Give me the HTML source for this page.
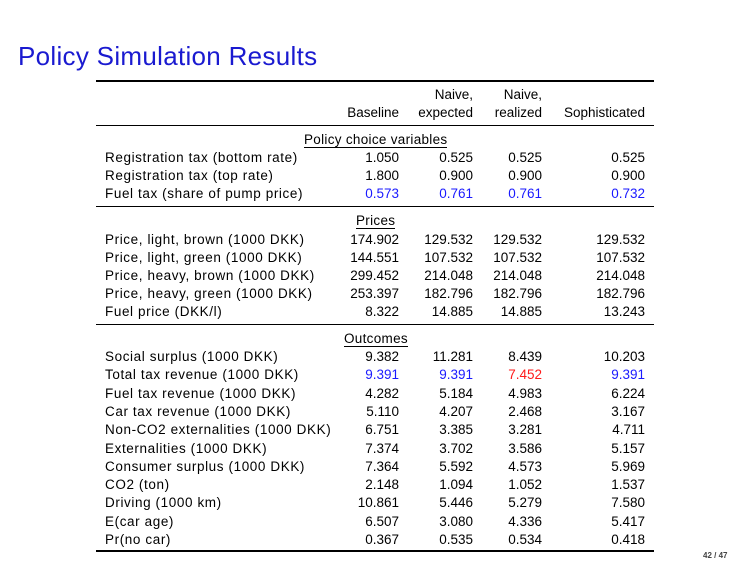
<!DOCTYPE html>
<html><head><style>
body{margin:0;width:755px;height:567px;background:#fff;position:relative;overflow:hidden;font-family:"Liberation Sans",sans-serif;color:#000}
.t{position:absolute;left:18px;top:41px;font-size:26px;color:#1a1ad0;white-space:nowrap;letter-spacing:0.3px}
.r{position:absolute;left:0;width:755px;height:18px;font-size:13.5px;line-height:18px;margin-top:1px}
.r span{position:absolute;white-space:nowrap;top:0}
.l{left:105px;letter-spacing:0.6px}
.c1{right:356px}.c2{right:282px}.c3{right:213px}.c4{right:110px}
.b{color:#1a1aff}.red{color:#ff1a1a}
.h{position:absolute;background:#000;left:96px;width:558px}
.s{position:absolute;font-size:13.5px;white-space:nowrap;border-bottom:1px solid #000;line-height:15px;letter-spacing:0.3px;margin-top:1px}
.pg{position:absolute;left:703px;top:551px;font-size:8px;font-weight:bold;color:#444}
</style></head><body>
<div class="t">Policy Simulation Results</div>
<div class="h" style="top:80px;height:1.5px"></div>
<div class="r" style="top:85px"><span class="c2">Naive,</span><span class="c3">Naive,</span></div>
<div class="r" style="top:103px"><span class="c1">Baseline</span><span class="c2">expected</span><span class="c3">realized</span><span class="c4">Sophisticated</span></div>
<div class="h" style="top:125px;height:1px"></div>
<div class="s" style="left:304px;top:131px">Policy choice variables</div>
<div class="r" style="top:148px"><span class="l">Registration tax (bottom rate)</span><span class="c1">1.050</span><span class="c2">0.525</span><span class="c3">0.525</span><span class="c4">0.525</span></div>
<div class="r" style="top:166px"><span class="l">Registration tax (top rate)</span><span class="c1">1.800</span><span class="c2">0.900</span><span class="c3">0.900</span><span class="c4">0.900</span></div>
<div class="r" style="top:184px"><span class="l">Fuel tax (share of pump price)</span><span class="c1 b">0.573</span><span class="c2 b">0.761</span><span class="c3 b">0.761</span><span class="c4 b">0.732</span></div>
<div class="h" style="top:206px;height:1px"></div>
<div class="s" style="left:356px;top:212px">Prices</div>
<div class="r" style="top:230px"><span class="l">Price, light, brown (1000 DKK)</span><span class="c1">174.902</span><span class="c2">129.532</span><span class="c3">129.532</span><span class="c4">129.532</span></div>
<div class="r" style="top:248px"><span class="l">Price, light, green (1000 DKK)</span><span class="c1">144.551</span><span class="c2">107.532</span><span class="c3">107.532</span><span class="c4">107.532</span></div>
<div class="r" style="top:266px"><span class="l">Price, heavy, brown (1000 DKK)</span><span class="c1">299.452</span><span class="c2">214.048</span><span class="c3">214.048</span><span class="c4">214.048</span></div>
<div class="r" style="top:284px"><span class="l">Price, heavy, green (1000 DKK)</span><span class="c1">253.397</span><span class="c2">182.796</span><span class="c3">182.796</span><span class="c4">182.796</span></div>
<div class="r" style="top:302px"><span class="l">Fuel price (DKK/l)</span><span class="c1">8.322</span><span class="c2">14.885</span><span class="c3">14.885</span><span class="c4">13.243</span></div>
<div class="h" style="top:324px;height:1px"></div>
<div class="s" style="left:344px;top:330px">Outcomes</div>
<div class="r" style="top:347px"><span class="l">Social surplus (1000 DKK)</span><span class="c1">9.382</span><span class="c2">11.281</span><span class="c3">8.439</span><span class="c4">10.203</span></div>
<div class="r" style="top:365.3px"><span class="l">Total tax revenue (1000 DKK)</span><span class="c1 b">9.391</span><span class="c2 b">9.391</span><span class="c3 red">7.452</span><span class="c4 b">9.391</span></div>
<div class="r" style="top:383.6px"><span class="l">Fuel tax revenue (1000 DKK)</span><span class="c1">4.282</span><span class="c2">5.184</span><span class="c3">4.983</span><span class="c4">6.224</span></div>
<div class="r" style="top:401.9px"><span class="l">Car tax revenue (1000 DKK)</span><span class="c1">5.110</span><span class="c2">4.207</span><span class="c3">2.468</span><span class="c4">3.167</span></div>
<div class="r" style="top:420.2px"><span class="l">Non-CO2 externalities (1000 DKK)</span><span class="c1">6.751</span><span class="c2">3.385</span><span class="c3">3.281</span><span class="c4">4.711</span></div>
<div class="r" style="top:438.5px"><span class="l">Externalities (1000 DKK)</span><span class="c1">7.374</span><span class="c2">3.702</span><span class="c3">3.586</span><span class="c4">5.157</span></div>
<div class="r" style="top:456.8px"><span class="l">Consumer surplus (1000 DKK)</span><span class="c1">7.364</span><span class="c2">5.592</span><span class="c3">4.573</span><span class="c4">5.969</span></div>
<div class="r" style="top:475.1px"><span class="l">CO2 (ton)</span><span class="c1">2.148</span><span class="c2">1.094</span><span class="c3">1.052</span><span class="c4">1.537</span></div>
<div class="r" style="top:493.4px"><span class="l">Driving (1000 km)</span><span class="c1">10.861</span><span class="c2">5.446</span><span class="c3">5.279</span><span class="c4">7.580</span></div>
<div class="r" style="top:511.7px"><span class="l">E(car age)</span><span class="c1">6.507</span><span class="c2">3.080</span><span class="c3">4.336</span><span class="c4">5.417</span></div>
<div class="r" style="top:530px"><span class="l">Pr(no car)</span><span class="c1">0.367</span><span class="c2">0.535</span><span class="c3">0.534</span><span class="c4">0.418</span></div>
<div class="h" style="top:550px;height:1.5px"></div>
<div class="pg">42 / 47</div>
</body></html>
